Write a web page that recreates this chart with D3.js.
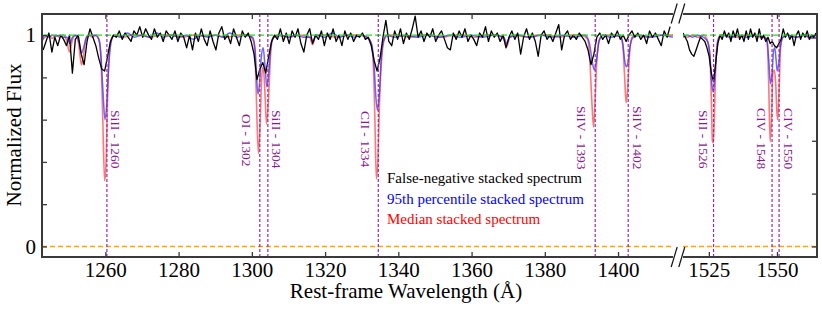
<!DOCTYPE html>
<html>
<head>
<meta charset="utf-8">
<script src="https://cdn.jsdelivr.net/npm/d3@7"></script>
<style>
  body { margin: 0; background: #fff; }
  svg text { font-family: "Liberation Serif", "Times New Roman", serif; }
</style>
</head>
<body>
<div id="chart"></div>
<script>
// ---- data ----
// black (false-negative) spectrum, sampled every 0.8 A
const blackStep = 0.8
const blackLeftStart = 1243.0
const blackLeftFlux = [
  0.93, 0.97, 1.01, 0.92, 0.99, 0.95, 1.00, 0.98, 0.95, 1.00,
  0.82, 0.98, 1.00, 0.91, 0.86, 0.97, 1.03, 0.99, 0.95, 0.89,
  0.84, 0.83, 0.90, 0.97, 1.00, 0.99, 1.02, 0.98, 1.01, 0.99,
  0.97, 1.02, 1.00, 1.04, 0.99, 1.03, 1.00, 0.98, 1.03, 0.99,
  1.01, 0.97, 1.02, 1.00, 0.98, 1.02, 0.97, 1.01, 0.99, 0.94,
  1.00, 0.93, 1.01, 0.97, 1.03, 0.98, 0.95, 1.02, 0.97, 0.93,
  1.01, 1.04, 0.98, 1.00, 0.96, 1.03, 0.99, 0.95, 1.02, 0.99,
  1.01, 0.97, 0.91, 0.79, 0.84, 0.87, 0.82, 0.90, 0.97, 1.00,
  0.98, 1.03, 0.97, 1.01, 0.96, 1.02, 0.99, 1.03, 0.96, 0.92,
  1.00, 1.03, 0.96, 1.00, 0.98, 1.02, 0.95, 1.01, 0.98, 1.03,
  0.97, 1.00, 0.95, 1.02, 0.98, 1.01, 0.97, 1.00, 0.99, 1.01,
  0.98, 0.99, 0.95, 0.88, 0.83, 0.89, 0.99, 1.07, 0.97, 0.95,
  1.02, 0.98, 1.03, 0.96, 1.01, 0.98, 1.03, 1.09, 0.99, 1.02,
  0.97, 1.01, 0.99, 1.03, 0.97, 1.00, 1.02, 0.98, 0.94, 0.93,
  1.01, 0.98, 1.02, 0.99, 1.03, 0.97, 1.00, 0.98, 0.95, 1.01,
  0.99, 1.04, 0.97, 1.02, 0.99, 1.01, 0.97, 1.00, 0.94, 0.99,
  1.02, 0.98, 1.01, 0.91, 0.99, 1.03, 0.98, 1.01, 0.97, 0.90,
  1.00, 1.02, 0.98, 1.00, 0.97, 1.01, 1.05, 0.93, 1.00, 1.02,
  0.98, 1.00, 0.98, 1.01, 0.99, 0.97, 0.93, 0.86, 0.91, 0.99,
  1.01, 0.98, 1.00, 0.96, 1.01, 0.99, 1.02, 0.98, 1.00, 0.97,
  1.00, 1.02, 0.99, 1.01, 0.98, 1.00, 0.96, 1.02, 0.99, 1.01,
  0.98, 0.95, 1.02, 0.99, 1.04
]
const blackRightStart = 1515.5
const blackRightFlux = [
  1.01, 0.99, 0.97, 0.93, 0.91, 0.90, 0.93, 0.96, 0.99, 0.98,
  0.97, 0.94, 0.90, 0.82, 0.78, 0.87, 0.96, 1.00, 0.98, 1.02,
  0.99, 1.01, 0.97, 1.02, 0.99, 1.03, 0.98, 1.00, 0.97, 1.02,
  0.98, 1.03, 0.99, 1.01, 0.97, 1.03, 0.98, 1.00, 0.97, 0.99,
  0.96, 0.97, 0.95, 0.94, 0.96, 0.98, 1.03, 0.99, 1.01, 0.98,
  1.00, 0.95, 1.00, 1.02, 0.98, 1.01, 0.99, 1.02, 0.98, 1.00,
  0.99, 1.01
]

// median stacked spectrum [wavelength, flux]
const redLeft = [
  [1242.7,0.975],[1243.5,0.99],[1244.5,1.0],[1245.5,0.985],[1246.5,1.0],[1247.5,0.99],[1248.5,1.0],
  [1249.5,0.97],[1250.2,0.92],[1250.9,0.97],[1251.7,1.0],[1252.6,0.97],[1253.1,0.9],[1253.5,0.86],
  [1254.0,0.9],[1254.7,0.98],[1255.5,1.0],[1256.5,0.99],[1257.5,1.0],[1258.4,0.97],[1258.9,0.85],
  [1259.3,0.6],[1259.8,0.31],[1260.2,0.4],[1260.6,0.7],[1261.1,0.92],[1261.8,0.99],[1263,1.0],
  [1265,0.99],[1267,1.0],[1270,1.0],[1272,0.99],[1275,1.0],[1278,1.0],[1281,0.99],[1284,1.0],
  [1287,0.995],[1290,1.0],[1293,0.99],[1296,1.0],[1299,1.0],[1300.5,0.97],[1301.0,0.85],
  [1301.4,0.6],[1301.8,0.44],[1302.2,0.55],[1302.7,0.8],[1303.1,0.85],[1303.6,0.72],[1304.0,0.58],
  [1304.5,0.68],[1305.1,0.9],[1305.8,0.99],[1307,1.0],[1310,0.99],[1313,1.0],[1315.8,0.99],
  [1316.6,0.955],[1317.4,1.0],[1320,1.0],[1323,0.99],[1326,1.0],[1329,1.0],[1331.5,0.99],
  [1332.6,0.96],[1333.2,0.85],[1333.6,0.6],[1334.0,0.32],[1334.4,0.4],[1334.9,0.7],[1335.5,0.9],
  [1336.2,0.98],[1337.2,1.0],[1340,1.0],[1343,0.99],[1346,1.0],[1349,1.0],[1352,0.99],[1355,1.0],
  [1358,1.0],[1361,0.99],[1364,1.0],[1367,1.0],[1368.8,0.98],[1369.6,0.945],[1370.4,0.99],
  [1372,1.0],[1375,0.99],[1378,1.0],[1381,1.0],[1384,0.99],[1387,1.0],[1390,1.0],[1391.7,0.98],
  [1392.3,0.88],[1392.8,0.7],[1393.3,0.565],[1393.7,0.68],[1394.2,0.88],[1394.9,0.98],[1396,1.0],
  [1399,1.0],[1400.8,0.99],[1401.4,0.93],[1401.8,0.8],[1402.2,0.68],[1402.6,0.74],[1403.1,0.9],
  [1403.8,0.99],[1405,1.0],[1408,0.99],[1411,1.0],[1415,1.0]
]
const redRight = [
  [1515.5,1.0],[1517,0.99],[1519,1.0],[1521,0.99],[1523,1.0],[1524.6,0.97],[1525.4,0.9],
  [1525.9,0.7],[1526.3,0.5],[1526.6,0.49],[1527.0,0.6],[1527.5,0.85],[1528.2,0.97],[1529.3,1.0],
  [1532,1.0],[1535,0.99],[1538,1.0],[1541,1.0],[1544,0.99],[1545.8,0.99],[1546.5,0.95],
  [1547.0,0.75],[1547.5,0.495],[1548.0,0.6],[1548.5,0.82],[1549.0,0.835],[1549.5,0.78],
  [1550.0,0.63],[1550.3,0.60],[1550.8,0.75],[1551.4,0.95],[1552.2,0.99],[1554,1.0],[1557,0.99],
  [1560,1.0],[1562,0.985],[1564.7,0.99]
]

// 95th percentile stacked spectrum [wavelength, flux]
const blueLeft = [
  [1242.7,0.97],[1243.5,1.0],[1244.5,0.99],[1245.5,1.0],[1246.5,0.995],[1247.5,1.0],[1248.5,0.99],
  [1249.5,0.99],[1250.3,0.96],[1251.0,0.99],[1252,1.0],[1252.8,0.97],[1253.5,0.915],[1254.2,0.95],
  [1255,0.995],[1256,1.0],[1257.2,1.0],[1258.2,0.98],[1258.8,0.9],[1259.3,0.75],[1259.9,0.60],
  [1260.4,0.68],[1260.9,0.85],[1261.5,0.96],[1262.3,1.0],[1264,0.99],[1266,1.01],[1268,0.99],
  [1270,1.0],[1272,0.99],[1274,1.01],[1276,0.99],[1278,1.0],[1280,0.99],[1282,1.0],[1284,0.98],
  [1286,1.0],[1288,0.99],[1290,1.0],[1292,0.99],[1294,1.01],[1296,0.99],[1298,1.0],[1300.2,0.99],
  [1300.9,0.93],[1301.3,0.8],[1301.7,0.72],[1302.1,0.77],[1302.6,0.9],[1303.1,0.94],[1303.6,0.85],
  [1304.1,0.755],[1304.6,0.82],[1305.2,0.95],[1306,0.99],[1308,1.0],[1310,0.99],[1312,1.0],
  [1314,0.99],[1316,0.99],[1316.7,0.965],[1317.5,1.0],[1320,0.99],[1322,1.01],[1324,0.99],
  [1326,1.0],[1328,0.99],[1330,1.0],[1332,0.98],[1332.8,0.95],[1333.4,0.85],[1333.9,0.7],
  [1334.3,0.645],[1334.8,0.72],[1335.3,0.88],[1335.9,0.97],[1336.8,1.0],[1339,0.99],[1342,1.0],
  [1345,0.99],[1348,1.0],[1351,0.99],[1354,1.0],[1357,0.99],[1360,1.0],[1363,0.99],[1366,1.0],
  [1368.8,0.99],[1369.6,0.96],[1370.4,0.99],[1373,1.0],[1376,0.99],[1379,1.0],[1382,0.99],
  [1385,1.0],[1388,0.99],[1391,1.0],[1392.2,0.96],[1392.9,0.88],[1393.5,0.835],[1394.1,0.88],
  [1394.8,0.97],[1395.8,1.0],[1398,0.99],[1400.5,1.0],[1401.3,0.96],[1401.8,0.88],[1402.2,0.85],
  [1402.7,0.87],[1403.3,0.95],[1404.2,0.99],[1406,1.0],[1409,0.99],[1412,1.0],[1415,0.99]
]
const blueRight = [
  [1515.5,0.99],[1517,1.0],[1519,0.99],[1521,1.0],[1523,0.99],[1524.5,0.97],[1525.4,0.9],
  [1526.0,0.78],[1526.6,0.73],[1527.2,0.8],[1527.9,0.93],[1528.8,0.99],[1530,1.0],[1533,0.99],
  [1536,1.0],[1539,0.99],[1542,1.0],[1545,0.99],[1546.3,0.98],[1547.0,0.88],[1547.6,0.77],
  [1548.2,0.82],[1548.8,0.93],[1549.2,0.94],[1549.7,0.88],[1550.1,0.83],[1550.6,0.86],
  [1551.3,0.95],[1552.2,0.99],[1554,1.0],[1557,0.99],[1560,1.0],[1562,0.99],[1564.7,0.985]
]

// absorption lines
const lineWaves = [1260.42, 1302.17, 1304.37, 1334.53, 1393.76, 1402.77, 1526.71, 1548.20, 1550.78]
const lineLabels = ["SiII - 1260", "OI - 1302", "SiII - 1304", "CII - 1334", "SiIV - 1393",
                    "SiIV - 1402", "SiII - 1526", "CIV - 1548", "CIV - 1550"]

const xTicksLeft = [1260, 1280, 1300, 1320, 1340, 1360, 1380, 1400]
const xTicksRight = [1525, 1550]
const yTicksLeft = [0, 0.2, 0.4, 0.6, 0.8, 1]
const yTicksRight = [0, 0.25, 0.5, 0.75, 1]
const legendNames = ["False-negative stacked spectrum", "95th percentile stacked spectrum", "Median stacked spectrum"]

// ---- layout ----
const W = 822, H = 311
const plotTop = 14, plotBottom = 257, plotLeft = 42, plotRight = 817
const breakL = 673, breakR = 683
const serif = "Liberation Serif, Times New Roman, serif"
const labelDx = [4, -18, 4, -17, -18, 5, -14.5, -15, 4.5]   // label offsets from line (px)
const labelY = [110, 114, 110, 111, 106, 106, 110, 108, 108]

const svg = d3.select("#chart").append("svg")
  .attr("width", W).attr("height", H)

const y = d3.scaleLinear().domain([-0.05, 1.1]).range([plotBottom, plotTop])
const xl = d3.scaleLinear().domain([1242.7, 1415]).range([plotLeft, breakL])
const xr = d3.scaleLinear().domain([1515.5, 1564.7]).range([breakR, plotRight])
const xOf = w => (w < 1450 ? xl(w) : xr(w))

const defs = svg.append("defs")
defs.append("clipPath").attr("id", "clipL").append("rect")
  .attr("x", plotLeft).attr("y", plotTop).attr("width", breakL - plotLeft).attr("height", plotBottom - plotTop)
defs.append("clipPath").attr("id", "clipR").append("rect")
  .attr("x", breakR).attr("y", plotTop).attr("width", plotRight - breakR).attr("height", plotBottom - plotTop)

const blackLeft = blackLeftFlux.map((f, i) => [blackLeftStart + i * blackStep, f])
const blackRight = blackRightFlux.map((f, i) => [blackRightStart + i * blackStep, f])

function drawPanel(x, clip, red, blue, black) {
  const g = svg.append("g").attr("clip-path", "url(#" + clip + ")")
  const line = d3.line().x(d => x(d[0])).y(d => y(d[1])).curve(d3.curveMonotoneX)
  const lineLin = d3.line().x(d => x(d[0])).y(d => y(d[1]))
  const [x0, x1] = x.domain()

  // zero line
  g.append("line").attr("x1", x(x0)).attr("x2", x(x1)).attr("y1", y(0)).attr("y2", y(0))
    .attr("stroke", "#ffa500").attr("stroke-width", 1.4).attr("stroke-dasharray", "5,3")

  g.append("path").datum(red).attr("d", line).attr("fill", "none")
    .attr("stroke", "#ff3030").attr("stroke-opacity", 0.65).attr("stroke-width", 1.6)
  g.append("path").datum(blue).attr("d", line).attr("fill", "none")
    .attr("stroke", "#2a2aff").attr("stroke-opacity", 0.7).attr("stroke-width", 1.5)
  g.append("path").datum(black).attr("d", lineLin).attr("fill", "none")
    .attr("stroke", "#000").attr("stroke-width", 1.3).attr("stroke-linejoin", "round")

  // continuum
  g.append("line").attr("x1", x(x0)).attr("x2", x(x1)).attr("y1", y(1)).attr("y2", y(1))
    .attr("stroke", "#22dd22").attr("stroke-width", 1.4).attr("stroke-dasharray", "6,3")
}

drawPanel(xl, "clipL", redLeft, blueLeft, blackLeft)
drawPanel(xr, "clipR", redRight, blueRight, blackRight)

// vertical line markers
lineWaves.forEach((w, i) => {
  const xp = xOf(w)
  svg.append("line").attr("x1", xp).attr("x2", xp).attr("y1", plotTop).attr("y2", plotBottom)
    .attr("stroke", "#9a2aa2").attr("stroke-width", 1.2).attr("stroke-dasharray", "3,2")
  svg.append("text")
    .attr("transform", "translate(" + (xp + labelDx[i]) + "," + labelY[i] + ") rotate(90)")
    .attr("font-family", serif).attr("font-size", 13.5).attr("fill", "#8a1a8e")
    .text(lineLabels[i])
})

// axes
const axisColor = "#3a3a3a"
function styleAxis(g) {
  g.attr("font-family", serif)
  g.select(".domain").remove()
  g.selectAll(".tick line").attr("stroke", axisColor).attr("stroke-width", 1.3)
  g.selectAll(".tick text").attr("fill", "#000").attr("font-size", 21).attr("font-family", serif)
}
svg.append("g").attr("transform", "translate(0," + plotBottom + ")")
  .call(d3.axisBottom(xl).tickValues(xTicksLeft).tickSize(-5).tickPadding(5).tickFormat(d3.format("d")))
  .call(styleAxis)
svg.append("g").attr("transform", "translate(0," + plotBottom + ")")
  .call(d3.axisBottom(xr).tickValues(xTicksRight).tickSize(-5).tickPadding(5).tickFormat(d3.format("d")))
  .call(styleAxis)
svg.append("g").attr("transform", "translate(0," + plotTop + ")")
  .call(d3.axisTop(xl).tickValues(xTicksLeft).tickSize(-5).tickFormat(""))
  .call(styleAxis)
svg.append("g").attr("transform", "translate(0," + plotTop + ")")
  .call(d3.axisTop(xr).tickValues(xTicksRight).tickSize(-5).tickFormat(""))
  .call(styleAxis)
svg.append("g").attr("transform", "translate(" + plotLeft + ",0)")
  .call(d3.axisLeft(y).tickValues(yTicksLeft).tickSize(-5).tickPadding(6)
    .tickFormat(d => (d === 0 || d === 1 ? d : "")))
  .call(styleAxis)
svg.append("g").attr("transform", "translate(" + plotRight + ",0)")
  .call(d3.axisRight(y).tickValues(yTicksRight).tickSize(-5).tickFormat(""))
  .call(styleAxis)

// frame with break
const frame = svg.append("g").attr("stroke", axisColor).attr("stroke-width", 2).attr("fill", "none")
frame.append("line").attr("x1", plotLeft).attr("x2", plotLeft).attr("y1", plotTop - 1).attr("y2", plotBottom + 1)
frame.append("line").attr("x1", plotRight).attr("x2", plotRight).attr("y1", plotTop - 1).attr("y2", plotBottom + 1)
;[plotTop, plotBottom].forEach(yy => {
  frame.append("line").attr("x1", plotLeft).attr("x2", breakL).attr("y1", yy).attr("y2", yy)
  frame.append("line").attr("x1", breakR).attr("x2", plotRight).attr("y1", yy).attr("y2", yy)
})
const bx = (breakL + breakR) / 2
;[plotTop - 0.5, plotBottom].forEach(yy => {
  ;[-3.8, 3.8].forEach(o => {
    svg.append("line")
      .attr("x1", bx + o - 3).attr("y1", yy + 10).attr("x2", bx + o + 3).attr("y2", yy - 10)
      .attr("stroke", "#111").attr("stroke-width", 1.2)
  })
})

// axis titles
svg.append("text").attr("x", 406).attr("y", 298).attr("text-anchor", "middle")
  .attr("font-family", serif).attr("font-size", 21).text("Rest-frame Wavelength (Å)")
svg.append("text").attr("transform", "translate(21,135) rotate(-90)")
  .attr("text-anchor", "middle").attr("font-family", serif).attr("font-size", 21).text("Normalized Flux")

// legend
const legendColors = ["#000000", "#0000ff", "#ff0000"]
legendNames.forEach((name, i) => {
  svg.append("text").attr("x", 387).attr("y", 183 + i * 20.5)
    .attr("font-family", serif).attr("font-size", 15).attr("fill", legendColors[i]).text(name)
})
</script>
</body>
</html>
